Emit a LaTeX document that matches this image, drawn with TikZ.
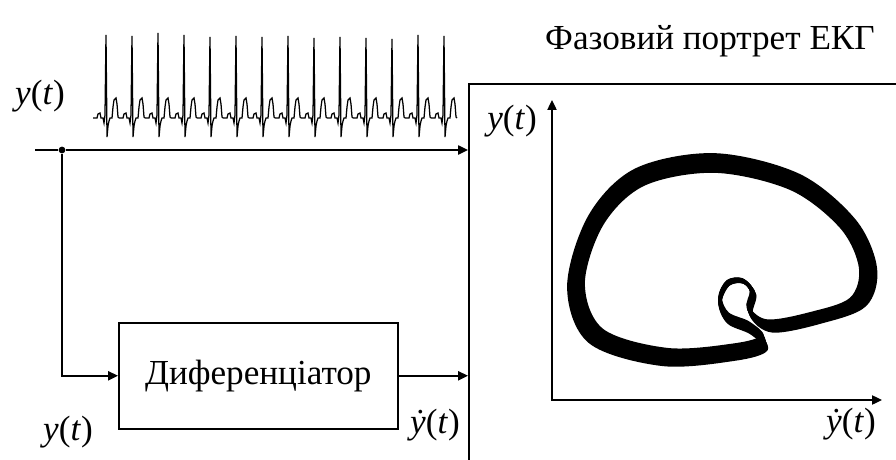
\documentclass[tikz,border=0pt]{standalone}
\usepackage{fontspec}
\setmainfont{Liberation Serif}
\usetikzlibrary{positioning, calc, arrows.meta}
\tikzset{
    sig/.style={-{Triangle[length=7pt,width=6.5pt]}, line width=1.1pt},
    axis/.style={{Triangle[length=7pt,width=6.5pt]}-{Triangle[length=7pt,width=6.5pt]}, line width=1pt},
    block/.style={draw, line width=1.1pt, minimum width=6.975cm, minimum height=2.65cm, font=\fontsize{25}{30}\selectfont},
    lbl/.style={font=\fontsize{25}{30}\selectfont, inner sep=0pt},
    ecg/.style={line width=0.9pt, line join=miter},
    orbit/.style={line width=2.4pt, line join=round},
}

\begin{document}
\begin{tikzpicture}[x=0.025cm, y=-0.025cm]
    \useasboundingbox (0,0) rectangle (896,460);
    \clip (0,0) rectangle (896,460);

    % Blocks
    \node[draw, line width=1.1pt, minimum width=11.5cm, minimum height=10cm, anchor=north west] (screen) at (468,83) {};
    \node[block, anchor=north west] (diff) at (118,322) {Диференціатор};
    \node[circle, fill, inner sep=0pt, minimum size=0.17cm] (split) at (62,150) {};
    \coordinate (src) at (35,150);

    % Connections
    \draw[sig] (src) -- (split) -- (split -| screen.west);
    \draw[sig] (split) |- (diff.west);
    \draw[sig] (diff.east) -- (diff.east -| screen.west);

    % Labels
    \node[lbl] (ytop) at (40,96) {\textit{y}(\textit{t})};
    \node[lbl] (ybot) at (68,432) {\textit{y}(\textit{t})};
    \node[lbl] (dyout) at (435,425) {\textit{ẏ}(\textit{t})};
    \node[lbl] (title) at (710,41) {Фазовий портрет ЕКГ};

    % Axes of the phase plane
    \coordinate (yaxis) at (552,100);
    \coordinate (xaxis) at (882,400);
    \draw[axis] (yaxis) |- (xaxis);
    \node[lbl] (yin) at (512,121) {\textit{y}(\textit{t})};
    \node[lbl] (dyin) at (851,424) {\textit{ẏ}(\textit{t})};

    % ECG signal
    \foreach \i/\h in {0/35, 1/36, 2/33, 3/35, 4/37, 5/36, 6/37, 7/36, 8/38, 9/37, 10/38, 11/39, 12/35, 13/36} {
        \pgfmathsetmacro\xo{106+26*\i}
        \draw[ecg] (\xo-13,118) -- (\xo-9,118) -- (\xo-8,114) -- (\xo-6,113) -- (\xo-5,118)
            -- (\xo-3,118) -- (\xo-2,123) -- (\xo-1,115) -- (\xo,\h) -- (\xo+1,137) -- (\xo+2,126)
            -- (\xo+3,121) -- (\xo+4,118) -- (\xo+6,118) -- (\xo+7,107) -- (\xo+8,100)
            -- (\xo+10,98) -- (\xo+11,104) -- (\xo+12,117) -- (\xo+13,118);
    }

    % Phase portrait
    \foreach \sx/\sy in {0.95/0.92, 0.96/0.94, 0.975/0.96, 0.99/0.98, 1/1, 1.01/1.02, 1.025/1.04, 1.04/1.06, 1.05/1.08} {
        \draw[orbit, shift={(720,265)}, xscale=\sx, yscale=\sy, shift={(-720,-265)}]
            plot[smooth cycle, tension=0.55] coordinates {
                (770,326) (815,318) (858,302) (868,268) (848,224) (795,182) (715,163)
                (640,177) (596,220) (576,285) (596,336) (665,357) (735,352) (764,343)
                (750,328) (728,318) (720,300) (728,283) (743,281) (753,293) (750,312)};
    }
\end{tikzpicture}
\end{document}
